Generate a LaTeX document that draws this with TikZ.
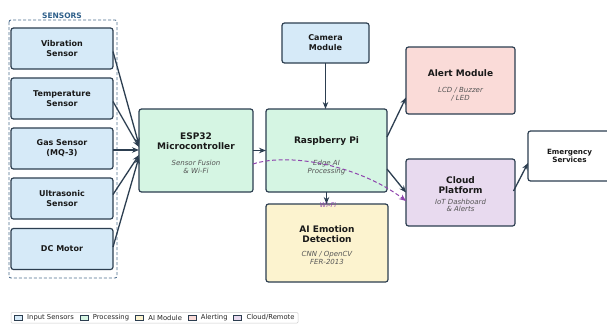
\documentclass[tikz,border=0pt]{standalone}
\usepackage{fontspec}
\setmainfont{DejaVu Sans}
\usetikzlibrary{arrows.meta,calc}
\definecolor{edgec}{HTML}{2C3E50}
\definecolor{sensfill}{HTML}{D6EAF8}
\definecolor{procfill}{HTML}{D5F5E3}
\definecolor{aifill}{HTML}{FCF3CF}
\definecolor{alertfill}{HTML}{FADBD8}
\definecolor{cloudfill}{HTML}{E8DAEF}
\definecolor{grouptxt}{HTML}{2E5F8A}
\definecolor{groupedge}{HTML}{4F6F8F}
\definecolor{subtxt}{HTML}{555555}
\definecolor{wifi}{HTML}{8E44AD}
\definecolor{legedge}{HTML}{CCCCCC}
\tikzset{
  box/.style={draw=edgec, line width=1.2pt, rounded corners=2.5pt, inner sep=0pt, outer sep=0pt, align=center, text=black!90},
  sensbox/.style={box, fill=sensfill, minimum width=102pt, minimum height=41pt, font=\fontsize{8}{10}\selectfont\bfseries},
  ttl/.style={align=center, inner sep=0pt, text=black!90},
  sub/.style={align=center, inner sep=0pt, text=subtxt, font=\fontsize{7}{7.6}\selectfont\itshape},
  conn/.style={draw=edgec, line width=1.3pt, -{Stealth[length=7pt,width=5.5pt]}},
  wificonn/.style={draw=wifi, line width=1pt, dash pattern=on 4pt off 2.5pt, -{Stealth[length=7pt,width=5.5pt]}},
  legsq/.style={draw=edgec, line width=0.6pt, minimum width=8pt, minimum height=5pt, inner sep=0pt, anchor=west},
  legtxt/.style={anchor=west, inner sep=0pt, font=\fontsize{6.8}{7}\selectfont, text=black!85}
}
\begin{document}
\begin{tikzpicture}[x=1pt,y=-1pt]
\useasboundingbox (0,0) rectangle (607,324);
\fill[white] (0,0) rectangle (607,324);

% sensor group
\draw[draw=groupedge, line width=0.9pt, dash pattern=on 3pt off 2pt, rounded corners=2pt] (9,20) rectangle (117,278);
\node[ttl, text=grouptxt, font=\fontsize{7.5}{8}\selectfont\bfseries] (grp) at (62,16) {SENSORS};

% sensors
\node[sensbox] (vib) at (62,48.5) {Vibration\\Sensor};
\node[sensbox] (temp) at (62,98.5) {Temperature\\Sensor};
\node[sensbox] (gas) at (62,148.5) {Gas Sensor\\(MQ-3)};
\node[sensbox] (ultra) at (62,198.5) {Ultrasonic\\Sensor};
\node[sensbox] (dc) at (62,249) {DC Motor};

% processing
\node[box, fill=procfill, minimum width=114pt, minimum height=83pt] (esp) at (196,150.5) {};
\node[ttl, font=\fontsize{9}{10}\selectfont\bfseries] (espt) at (196,141) {ESP32\\Microcontroller};
\node[sub] (esps) at (196,167) {Sensor Fusion\\\& Wi-Fi};

\node[box, fill=procfill, minimum width=121pt, minimum height=83pt] (rpi) at (326.5,150.5) {};
\node[ttl, font=\fontsize{9}{10}\selectfont\bfseries] (rpit) at (326.5,141) {Raspberry Pi};
\node[sub] (rpis) at (326.5,167.5) {Edge AI\\Processing};

\node[box, fill=sensfill, minimum width=87pt, minimum height=40pt, font=\fontsize{8}{10}\selectfont\bfseries] (cam) at (325.5,43) {Camera\\Module};

\node[box, fill=aifill, minimum width=122pt, minimum height=78pt] (ai) at (327,243) {};
\node[ttl, font=\fontsize{9}{10}\selectfont\bfseries] (ait) at (327,234) {AI Emotion\\Detection};
\node[sub] (ais) at (327,258) {CNN / OpenCV\\FER-2013};

\node[box, fill=alertfill, minimum width=109pt, minimum height=67pt] (alert) at (460.5,80.5) {};
\node[ttl, font=\fontsize{9}{10}\selectfont\bfseries] (alertt) at (460.5,73) {Alert Module};
\node[sub] (alerts) at (460.5,94) {LCD / Buzzer\\/ LED};

\node[box, fill=cloudfill, minimum width=109pt, minimum height=67pt] (cloud) at (460.5,192.5) {};
\node[ttl, font=\fontsize{9}{10}\selectfont\bfseries] (cloudt) at (460.5,185) {Cloud\\Platform};
\node[sub] (clouds) at (460.5,205.5) {IoT Dashboard\\\& Alerts};

\node[box, fill=white, minimum width=83pt, minimum height=50pt, font=\fontsize{7.2}{8}\selectfont\bfseries] (emerg) at (569.5,156) {Emergency\\Services};

% connectors
\draw[conn] ($(vib.east)+(0,3)$) -- ($(esp.west)+(0,-5.5)$);
\draw[conn] ($(temp.east)+(0,3)$) -- ($(esp.west)+(0,-3.5)$);
\draw[conn] ($(gas.east)+(0,1.5)$) -- ($(esp.west)+(0,-0.5)$);
\draw[conn] ($(ultra.east)+(0,-4)$) -- ($(esp.west)+(0,4.5)$);
\draw[conn] ($(dc.east)+(0,-2)$) -- ($(esp.west)+(0,6.5)$);
\draw[conn] (esp.east) -- (rpi.west);
\draw[conn] (cam.south) -- (cam.south |- rpi.north);
\draw[conn] (rpi.south) -- (rpi.south |- ai.north);
\draw[conn] ($(rpi.east)+(0,-13.5)$) -- ($(alert.west)+(0,17)$);
\draw[conn] ($(rpi.east)+(0,18.5)$) -- (cloud.west);
\draw[conn] ($(cloud.east)+(-1.5,-1.5)$) -- ($(emerg.west)+(0,7)$);
\draw[wificonn] ($(esp.east)+(0,13.5)$) .. controls (290,152) and (360,166) .. ($(cloud.west)+(0,8.5)$);
\node[ttl, text=wifi, font=\fontsize{6.5}{7}\selectfont\itshape] (wifil) at (328,205.5) {Wi-Fi};

% legend
\draw[draw=legedge, line width=0.5pt, fill=white, rounded corners=1pt] (11,312.5) rectangle (298,323);
\node[legsq, fill=sensfill] (l1) at (14,317.7) {};
\node[legtxt] (l1t) at (27,317.7) {Input Sensors};
\node[legsq, fill=procfill] (l2) at (79.6,317.7) {};
\node[legtxt] (l2t) at (92.6,317.7) {Processing};
\node[legsq, fill=aifill] (l3) at (135.2,317.7) {};
\node[legtxt] (l3t) at (148.2,317.7) {AI Module};
\node[legsq, fill=alertfill] (l4) at (187.7,317.7) {};
\node[legtxt] (l4t) at (200.7,317.7) {Alerting};
\node[legsq, fill=cloudfill] (l5) at (233.4,317.7) {};
\node[legtxt] (l5t) at (246.4,317.7) {Cloud/Remote};
\end{tikzpicture}
\end{document}
